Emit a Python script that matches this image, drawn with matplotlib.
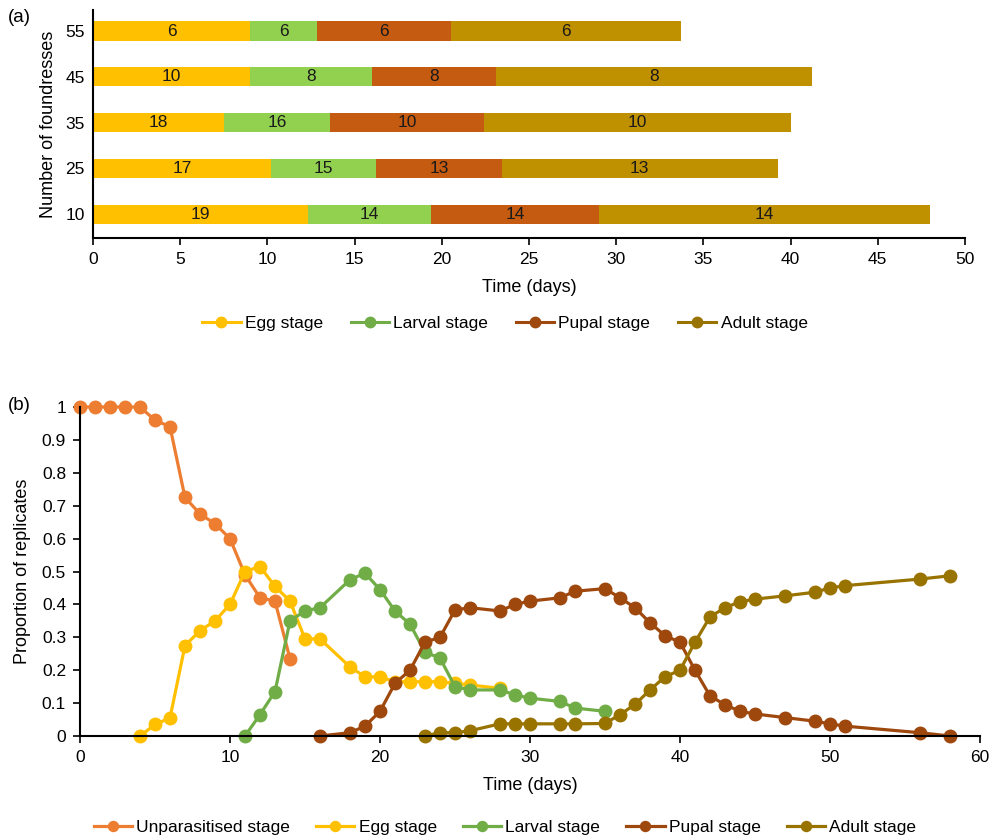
import matplotlib.pyplot as plt
import numpy as np

plt.rcParams['font.family'] = ['Liberation Sans', 'DejaVu Sans']
plt.rcParams['font.size'] = 12.5

# ---- panel (a) data: stage durations (days) and replicate counts
foundresses = ['10', '25', '35', '45', '55']
egg_days = [12.3, 10.2, 7.5, 9.0, 9.0]
larval_days = [7.1, 6.05, 6.1, 7.0, 3.85]
pupal_days = [9.6, 7.2, 8.8, 7.1, 7.65]
adult_days = [19.0, 15.8, 17.6, 18.1, 13.2]
egg_n = [19, 17, 18, 10, 6]
larval_n = [14, 15, 16, 8, 6]
pupal_n = [14, 13, 10, 8, 6]
adult_n = [14, 13, 10, 8, 6]

# ---- panel (b) data: proportion of replicates per stage
unpar_t = [0, 1, 2, 3, 4, 5, 6, 7, 8, 9, 10, 11, 12, 13, 14]
unpar_p = [1, 1, 1, 1, 1, 0.96, 0.94, 0.725, 0.675, 0.645, 0.60, 0.49, 0.42, 0.41, 0.235]
egg_t = [4, 5, 6, 7, 8, 9, 10, 11, 12, 13, 14, 15, 16, 18, 19, 20, 21, 22, 23, 24, 25, 26, 28]
egg_p = [0, 0.035, 0.055, 0.275, 0.32, 0.35, 0.40, 0.50, 0.515, 0.455, 0.41, 0.295, 0.295,
         0.21, 0.18, 0.18, 0.165, 0.165, 0.165, 0.165, 0.16, 0.155, 0.145]
larval_t = [11, 12, 13, 14, 15, 16, 18, 19, 20, 21, 22, 23, 24, 25, 26, 28, 29, 30, 32, 33, 35]
larval_p = [0, 0.065, 0.135, 0.35, 0.38, 0.39, 0.475, 0.495, 0.445, 0.38, 0.34, 0.255, 0.237,
            0.15, 0.14, 0.14, 0.125, 0.115, 0.105, 0.085, 0.075]
pupal_t = [16, 18, 19, 20, 21, 22, 23, 24, 25, 26, 28, 29, 30, 32, 33, 35, 36, 37, 38, 39, 40,
           41, 42, 43, 44, 45, 47, 49, 50, 51, 56, 58]
pupal_p = [0, 0.01, 0.03, 0.075, 0.16, 0.20, 0.285, 0.30, 0.383, 0.39, 0.38, 0.40, 0.41, 0.42,
           0.44, 0.448, 0.42, 0.39, 0.344, 0.305, 0.285, 0.20, 0.122, 0.095, 0.075, 0.067,
           0.056, 0.045, 0.037, 0.03, 0.01, 0]
adult_t = [23, 24, 25, 26, 28, 29, 30, 32, 33, 35, 36, 37, 38, 39, 40, 41, 42, 43, 44, 45, 47,
           49, 50, 51, 56, 58]
adult_p = [0, 0.01, 0.01, 0.016, 0.037, 0.037, 0.037, 0.037, 0.037, 0.038, 0.065, 0.096, 0.14,
           0.18, 0.20, 0.285, 0.362, 0.39, 0.408, 0.416, 0.426, 0.437, 0.45, 0.457, 0.477, 0.487]

bar_cols = ['#FFC000', '#92D050', '#C55A11', '#BF9000']
line_cols = {'unpar': '#ED7D31', 'egg': '#FFC000', 'larval': '#70AD47',
             'pupal': '#9E480E', 'adult': '#997300'}

fig = plt.figure(figsize=(9.92, 8.4), dpi=100)

# ---------------- (a)
ax1 = fig.add_axes([93 / 992, 1 - 238 / 840, 872 / 992, 228 / 840])
y = np.arange(len(foundresses))
left = np.zeros(len(y))
for durs, ns, col in zip([egg_days, larval_days, pupal_days, adult_days],
                         [egg_n, larval_n, pupal_n, adult_n], bar_cols):
    ax1.barh(y, durs, left=left, height=0.42, color=col, edgecolor='none')
    for yi, l, d, n in zip(y, left, durs, ns):
        ax1.text(l + d / 2, yi, str(n), ha='center', va='center', fontsize=12.5, color='#1a1a1a')
    left = left + np.array(durs)

ax1.set_xlim(0, 50)
ax1.set_ylim(-0.52, 4.46)
ax1.set_xticks(range(0, 51, 5))
ax1.set_yticks(y)
ax1.set_yticklabels(foundresses)
ax1.tick_params(axis='y', length=0, pad=6)
ax1.tick_params(axis='x', direction='out', length=5, width=1.2, pad=5)
for s in ['top', 'right']:
    ax1.spines[s].set_visible(False)
ax1.spines['left'].set_linewidth(1.5)
ax1.spines['bottom'].set_linewidth(1.5)
ax1.set_xlabel('Time (days)', fontsize=13, labelpad=9)
ax1.set_ylabel('Number of foundresses', fontsize=13, labelpad=6)

legend_a = [plt.Line2D([], [], color=c, lw=2.2, marker='o', ms=7.5)
            for c in [line_cols['egg'], line_cols['larval'], line_cols['pupal'], line_cols['adult']]]
fig.legend(legend_a, ['Egg stage', 'Larval stage', 'Pupal stage', 'Adult stage'],
           loc='center', bbox_to_anchor=(505 / 992, 1 - 323 / 840), ncol=4, frameon=False,
           fontsize=12.5, handlelength=2.2, columnspacing=1.6, handletextpad=0.25)
fig.text(8 / 992, 1 - 18 / 840, '(a)', fontsize=13.5, va='center')

# ---------------- (b)
ax2 = fig.add_axes([80 / 992, 1 - 736 / 840, 900 / 992, 329 / 840])
series = [(unpar_t, unpar_p, 'unpar', 'Unparasitised stage'),
          (egg_t, egg_p, 'egg', 'Egg stage'),
          (larval_t, larval_p, 'larval', 'Larval stage'),
          (pupal_t, pupal_p, 'pupal', 'Pupal stage'),
          (adult_t, adult_p, 'adult', 'Adult stage')]
for t, p, key, lab in series:
    ax2.plot(t, p, color=line_cols[key], lw=2.3, marker='o', ms=9, label=lab, clip_on=False)

ax2.set_xlim(0, 60)
ax2.set_ylim(0, 1)
ax2.set_xticks(range(0, 61, 10))
ax2.set_yticks(np.round(np.arange(0, 1.01, 0.1), 1))
ax2.set_yticklabels(['0', '0.1', '0.2', '0.3', '0.4', '0.5', '0.6', '0.7', '0.8', '0.9', '1'])
ax2.tick_params(direction='out', length=5, width=1.2, pad=5)
for s in ['top', 'right']:
    ax2.spines[s].set_visible(False)
ax2.spines['left'].set_linewidth(1.5)
ax2.spines['bottom'].set_linewidth(1.5)
ax2.set_xlabel('Time (days)', fontsize=13, labelpad=9)
ax2.set_ylabel('Proportion of replicates', fontsize=13, labelpad=8)

h, l = ax2.get_legend_handles_labels()
fig.legend(h, l, loc='center', bbox_to_anchor=(505 / 992, 1 - 827 / 840), ncol=5, frameon=False,
           fontsize=12.5, handlelength=2.2, columnspacing=1.5, handletextpad=0.25, markerscale=0.8)
fig.text(8 / 992, 1 - 405 / 840, '(b)', fontsize=13.5, va='center')

fig.savefig('out.png', dpi=100)
